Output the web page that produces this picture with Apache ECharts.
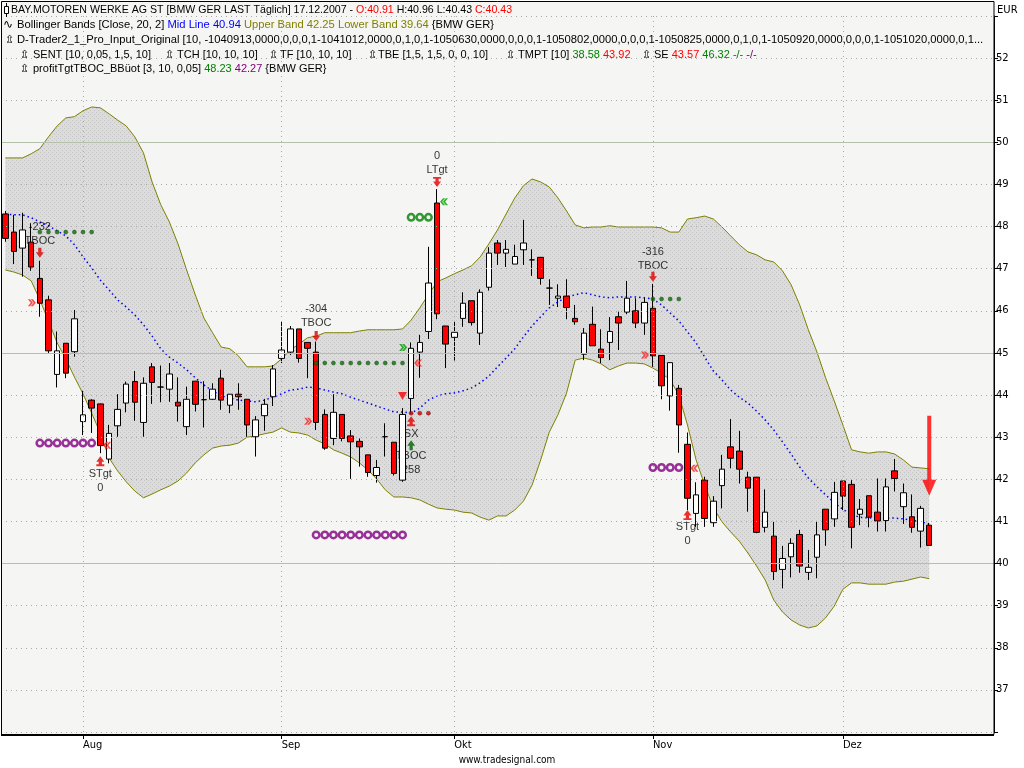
<!DOCTYPE html>
<html><head><meta charset="utf-8">
<script src="https://cdn.jsdelivr.net/npm/echarts@6/dist/echarts.min.js"></script>
<style>html,body{margin:0;padding:0;background:#fff}#c{width:1024px;height:768px}</style>
</head><body><div id="c"></div>
<script>
const dates = [
'2007-07-19','2007-07-20','2007-07-23','2007-07-24','2007-07-25','2007-07-26','2007-07-27','2007-07-30','2007-07-31',
'2007-08-01','2007-08-02','2007-08-03','2007-08-06','2007-08-07','2007-08-08','2007-08-09','2007-08-10','2007-08-13','2007-08-14','2007-08-15','2007-08-16','2007-08-17','2007-08-20','2007-08-21','2007-08-22','2007-08-23','2007-08-24','2007-08-27','2007-08-28','2007-08-29','2007-08-30','2007-08-31',
'2007-09-03','2007-09-04','2007-09-05','2007-09-06','2007-09-07','2007-09-10','2007-09-11','2007-09-12','2007-09-13','2007-09-14','2007-09-17','2007-09-18','2007-09-19','2007-09-20','2007-09-21','2007-09-24','2007-09-25','2007-09-26','2007-09-27','2007-09-28',
'2007-10-01','2007-10-02','2007-10-03','2007-10-04','2007-10-05','2007-10-08','2007-10-09','2007-10-10','2007-10-11','2007-10-12','2007-10-15','2007-10-16','2007-10-17','2007-10-18','2007-10-19','2007-10-22','2007-10-23','2007-10-24','2007-10-25','2007-10-26','2007-10-29','2007-10-30','2007-10-31',
'2007-11-01','2007-11-02','2007-11-05','2007-11-06','2007-11-07','2007-11-08','2007-11-09','2007-11-12','2007-11-13','2007-11-14','2007-11-15','2007-11-16','2007-11-19','2007-11-20','2007-11-21','2007-11-22','2007-11-23','2007-11-26','2007-11-27','2007-11-28','2007-11-29','2007-11-30',
'2007-12-03','2007-12-04','2007-12-05','2007-12-06','2007-12-07','2007-12-10','2007-12-11','2007-12-12','2007-12-13','2007-12-14','2007-12-17',
'2007-12-18','2007-12-19','2007-12-20','2007-12-21','2007-12-24','2007-12-25','2007-12-26'];
const monthNames = {'08':'Aug','09':'Sep','10':'Okt','11':'Nov','12':'Dez'};

// [open, close, low, high]
const ohlc = [
[48.30,47.72,47.64,48.37],[47.87,47.41,47.11,48.28],[47.49,47.92,46.81,48.33],[47.63,47.04,46.95,48.08],[46.77,46.18,45.86,47.19],
[46.26,45.05,45.00,46.36],[44.49,45.05,44.18,45.51],[45.23,44.52,44.40,45.23],[45.03,45.81,44.91,46.02],[43.37,43.53,43.05,44.10],
[43.88,43.69,43.10,43.90],[43.79,42.80,42.62,43.80],[42.48,43.09,42.38,43.29],[43.27,43.66,43.01,44.02],[43.81,44.26,43.59,44.32],
[44.32,43.83,43.39,44.57],[43.35,44.28,43.01,44.42],[44.67,44.30,43.79,44.76],[44.19,44.19,43.83,44.70],[44.14,44.50,43.84,44.76],
[43.83,43.74,43.37,44.42],[43.25,43.90,43.05,44.20],[44.33,43.78,43.61,44.33],[43.89,43.89,43.23,44.33],[43.90,44.14,43.89,44.28],
[44.40,43.88,43.65,44.60],[43.76,44.02,43.57,44.02],[44.02,43.96,43.65,44.28],[43.90,43.29,43.01,43.90],[43.01,43.41,42.54,43.50],
[43.51,43.78,43.15,43.91],[43.96,44.62,43.74,44.71],[44.87,45.07,44.76,45.74],[45.02,45.57,44.95,45.64],[45.57,44.87,44.77,45.57],
[45.25,45.11,44.40,45.25],[45.02,43.35,43.17,45.27],[43.54,42.74,42.70,43.66],[42.97,43.59,42.81,44.02],[43.54,42.97,42.90,43.54],
[43.03,42.89,42.01,43.17],[42.90,42.77,42.30,42.97],[42.58,42.16,42.06,42.58],[42.09,42.28,41.92,42.46],[43.01,43.01,42.54,43.33],
[42.88,42.14,42.09,42.88],[41.98,43.54,41.94,43.69],[43.92,45.11,43.57,45.25],[45.02,45.25,44.41,45.43],[45.51,46.66,45.33,47.52],
[48.56,45.93,45.80,48.89],[45.64,45.21,44.64,45.64],[45.37,45.49,44.82,45.76],[45.82,46.18,45.62,46.44],[46.24,45.72,45.65,46.24],
[45.47,46.44,45.19,46.51],[46.56,47.37,46.48,47.51],[47.61,47.37,47.09,47.68],[47.37,47.46,47.04,47.68],[47.11,47.29,47.11,47.57],
[47.45,47.61,47.09,48.16],[47.21,47.21,46.83,47.46],[47.27,46.77,46.62,47.27],[46.54,46.54,46.14,46.75],[46.30,46.35,46.09,46.63],
[46.35,46.08,45.80,46.75],[45.82,45.74,45.67,46.14],[44.97,45.47,44.83,45.59],[45.68,45.17,45.17,46.10],[45.09,44.89,44.76,45.56],
[45.25,45.51,44.83,45.85],[45.86,45.71,45.07,45.98],[45.97,46.30,45.92,46.71],[46.00,45.71,45.59,46.30],[45.71,46.20,45.43,46.31],
[46.06,44.93,44.67,46.64],[44.94,44.22,43.90,44.94],[43.98,44.77,43.63,44.77],[44.16,43.29,42.63,44.24],[42.83,41.55,41.27,43.11],
[41.19,41.63,40.87,41.93],[41.98,41.07,40.87,42.06],[40.97,41.48,40.87,41.60],[41.85,42.24,41.31,42.58],[42.77,42.50,42.26,43.43],
[42.67,42.24,41.90,43.15],[42.05,41.79,41.23,42.18],[42.05,40.74,40.72,42.05],[40.86,41.22,40.74,41.76],[40.65,39.81,39.61,40.99],
[39.86,40.12,39.41,40.42],[40.16,40.48,39.67,40.60],[40.69,39.94,39.78,40.80],[39.79,39.91,39.61,40.32],[40.15,40.68,39.65,40.99],
[41.29,40.80,40.42,41.29],[41.06,41.69,40.87,41.94],[41.96,41.60,41.27,41.96],[41.88,40.86,40.36,41.98],[41.17,41.29,40.91,41.53],
[41.61,41.10,40.86,41.61],[41.22,41.01,40.76,42.02],[41.02,41.82,40.76,42.02],[42.20,42.02,41.71,42.48],[41.35,41.68,40.94,41.90],
[41.11,40.86,40.73,41.64],[40.77,41.31,40.38,41.37],[40.91,40.43,40.43,40.96]];

const bbUpper = [
49.63,49.63,49.63,49.73,49.85,50.13,50.39,50.58,50.61,50.75,
50.84,50.82,50.68,50.53,50.39,50.13,49.75,49.06,48.52,48.11,
47.59,46.97,46.38,45.83,45.48,45.14,45.10,44.93,44.67,44.67,
44.67,44.69,44.86,45.07,45.21,45.36,45.40,45.48,45.48,45.48,
45.48,45.52,45.55,45.55,45.55,45.55,45.57,45.78,46.07,46.38,
46.69,46.78,46.88,46.97,47.07,47.28,47.59,47.92,48.30,48.68,
48.97,49.13,49.06,48.94,48.68,48.37,48.04,47.97,47.99,47.99,
48.02,47.99,47.99,47.99,47.99,47.99,47.97,47.87,47.87,48.18,
48.21,48.25,48.18,47.99,47.78,47.57,47.40,47.33,47.21,47.16,
46.95,46.62,46.14,45.55,45.02,44.41,43.86,43.29,42.70,42.65,
42.62,42.65,42.65,42.60,42.46,42.29,42.27,42.25];
const bbLower = [
46.97,46.92,46.85,46.71,46.26,45.76,45.24,44.86,44.43,44.03,
43.57,43.10,42.51,42.20,41.94,41.72,41.56,41.65,41.75,41.84,
41.96,42.15,42.39,42.58,42.74,42.79,42.81,42.86,43.00,43.03,
43.08,43.12,43.22,43.12,43.10,43.05,42.93,42.84,42.70,42.62,
42.53,42.39,42.22,42.01,41.75,41.58,41.58,41.56,41.51,41.41,
41.32,41.29,41.27,41.22,41.20,41.10,41.03,41.13,41.13,41.27,
41.48,41.86,42.46,43.12,43.53,44.05,44.83,44.88,44.83,44.74,
44.60,44.69,44.76,44.76,44.74,44.64,44.52,44.36,44.00,43.29,
42.46,41.86,41.32,40.99,40.75,40.53,40.25,39.94,39.61,39.13,
38.85,38.66,38.54,38.47,38.52,38.71,38.99,39.39,39.54,39.54,
39.51,39.51,39.51,39.56,39.58,39.63,39.68,39.64];
const bbMid = [
48.30,48.28,48.28,48.21,48.11,48.02,47.90,47.78,47.57,47.28,
47.02,46.73,46.50,46.26,46.09,45.90,45.67,45.40,45.10,44.90,
44.76,44.60,44.41,44.24,44.10,43.98,43.93,43.88,43.86,43.84,
43.88,43.95,44.03,44.12,44.14,44.19,44.17,44.12,44.07,44.03,
43.95,43.88,43.81,43.74,43.67,43.60,43.60,43.57,43.69,43.88,
43.98,44.03,44.05,44.10,44.17,44.29,44.45,44.67,44.88,45.10,
45.38,45.64,45.86,46.07,46.21,46.33,46.38,46.43,46.38,46.33,
46.31,46.33,46.33,46.33,46.31,46.28,46.14,45.95,45.76,45.50,
45.24,44.90,44.57,44.36,44.12,43.95,43.81,43.62,43.41,43.17,
42.89,42.60,42.29,42.03,41.82,41.63,41.44,41.29,41.15,41.10,
41.08,41.08,41.08,41.08,41.06,41.03,40.99,40.94];

const yMin = 36, yMax = 53, yStep = 1;
const gridLevels = [36,37,38,39,40,41,42,43,44,45,46,47,48,49,50,51,52,53];
const majorLevels = [40,45,50];

// signal markers [candle index, price]
const greenDots = [[4,47.87],[5,47.87],[6,47.87],[7,47.87],[8,47.87],[9,47.87],[10,47.87],
  [36,44.76],[37,44.76],[38,44.76],[39,44.76],[40,44.76],[41,44.76],[42,44.76],[43,44.76],[44,44.76],[45,44.76],[46,44.76],
  [75,46.28],[76,46.28],[77,46.28],[78,46.28]];
const redDots = [[47,43.57],[48,43.57],[49,43.57]];
const purpleRings = [[4,42.86],[5,42.86],[6,42.86],[7,42.86],[8,42.86],[9,42.86],[10,42.86],
  [36,40.68],[37,40.68],[38,40.68],[39,40.68],[40,40.68],[41,40.68],[42,40.68],[43,40.68],[44,40.68],[45,40.68],[46,40.68],
  [75,42.28],[76,42.28],[77,42.28],[78,42.28]];
const greenRings = [[47,48.22],[48,48.22],[49,48.22]];
const sellArrows = [[4,47.38],[36,45.40],[75,46.81]];
const longTgtArrows = [[50,49.06]];
const shortTgtArrows = [[11,42.43],[79,41.15],[47,43.38]];
const buyArrows = [[47,42.81]];
const downTriangles = [[46,43.98]];
const redChevronsRight = [[4,46.19],[36,43.38],[75,44.95]];
const greenChevronsRight = [[47,45.13]];
const redChevronsLeft = [[11,42.81],[47,44.76],[79,42.26]];
const greenChevronsLeft = [[50,48.59]];
const bigArrow = [[107,42.56]];
const textMarks = [[4,47.83,'-232\nTBOC'],[36,45.88,'-304\nTBOC'],[75,47.24,'-316\nTBOC'],[50,49.50,'0\nLTgt'],
  [11,41.95,'STgt\n0'],[79,40.69,'STgt\n0'],[47,43.08,'SX'],[47,42.38,'TBOC\n258']];

function isMonthStart(i){ return i>0 && dates[i].slice(5,7)!==dates[i-1].slice(5,7); }
const monthStarts = dates.map((d,i)=>i).filter(isMonthStart);

function makePattern(){
  const c=document.createElement('canvas'); c.width=4; c.height=4;
  const g=c.getContext('2d'); g.fillStyle='#dcdcdc'; g.fillRect(0,0,4,4);
  g.fillStyle='#c4c4c4'; g.fillRect(0,0,1,1); g.fillRect(2,2,1,1); return c;
}

const FONT = '"Liberation Sans", Arial, sans-serif';
const chart = echarts.init(document.getElementById('c'));

const gridMarks = gridLevels.map(v => majorLevels.includes(v)
  ? {yAxis:v, lineStyle:{type:'solid', color:'#b4c0ac', width:1}}
  : {yAxis:v, lineStyle:{type:[1,4], color:'#a8a8a8', width:1}})
  .concat(monthStarts.map(i => ({xAxis:i, lineStyle:{type:[1,4], color:'#a8a8a8', width:1}})));

function scat(name, data, opts){ return Object.assign({type:'scatter', name, data, z:5, silent:true, animation:false}, opts); }

const arrowDown = 'path://M3,0 L7,0 L7,5 L10,5 L5,11 L0,5 L3,5 Z';
const arrowDownBar = 'path://M0,0 L10,0 L10,2 L7,2 L7,5 L10,5 L5,11 L0,5 L3,5 L3,2 L0,2 Z';
const arrowUpBar = 'path://M5,0 L10,6 L7,6 L7,9 L10,9 L10,11 L0,11 L0,9 L3,9 L3,6 L0,6 Z';
const arrowUp = 'path://M5,0 L10,6 L7,6 L7,11 L3,11 L3,6 L0,6 Z';
const chevR = 'path://M0,0 L3,0 L7,4 L3,8 L0,8 L4,4 Z M4,0 L7,0 L11,4 L7,8 L4,8 L8,4 Z';
const chevL = 'path://M11,0 L8,0 L4,4 L8,8 L11,8 L7,4 Z M7,0 L4,0 L0,4 L4,8 L7,8 L3,4 Z';
const bigArrowPath = 'path://M5,0 L9,0 L9,64 L14,64 L7,80 L0,64 L5,64 Z';

const option = {
  animation:false,
  grid:{left:1, right:30, top:16, height:716, containLabel:false},
  xAxis:{type:'category', data:dates, boundaryGap:true, offset:3,
    axisLine:{show:false},
    axisTick:{show:true, alignWithLabel:true, interval:(i)=>isMonthStart(i), length:4, lineStyle:{color:'#000'}},
    axisLabel:{interval:(i)=>isMonthStart(i), formatter:(v)=>monthNames[v.slice(5,7)]||'', align:'left', margin:5,
      fontSize:11, color:'#000', fontFamily:'"Liberation Sans Narrow","DejaVu Sans Condensed",sans-serif'},
    splitLine:{show:false}},
  yAxis:{type:'value', position:'right', min:yMin, max:yMax, interval:yStep, scale:true,
    axisLine:{show:true, lineStyle:{color:'#000'}},
    axisTick:{show:true, length:4, lineStyle:{color:'#000'}},
    axisLabel:{margin:2, fontSize:10, color:'#000', fontFamily:'"DejaVu Sans",sans-serif',
      formatter:(v)=> (v===yMin||v===yMax)?'':String(v)},
    splitLine:{show:false}},
  series:[
    {type:'line', name:'Lower Band', data:bbLower, stack:'bb', symbol:'none', z:1,
      lineStyle:{color:'#808000', width:1}},
    {type:'line', name:'Band', data:bbUpper.map((u,i)=>+(u-bbLower[i]).toFixed(2)), stack:'bb', symbol:'none', z:1,
      lineStyle:{color:'#808000', width:1}, areaStyle:{color:{image:makePattern(), repeat:'repeat'}, opacity:1}},
    {type:'line', name:'Mid Line', data:bbMid, symbol:'none', z:2,
      lineStyle:{color:'#0000ff', width:1.5, type:[1.5,3]},
      markLine:{silent:true, symbol:['none','none'], label:{show:false}, animation:false, data:gridMarks}},
    scat('texts', textMarks, {z:2.5, symbolSize:1, itemStyle:{color:'rgba(0,0,0,0)'},
      label:{show:true, position:'inside', formatter:(p)=>p.data[2], color:'#000', fontSize:11, lineHeight:14, fontFamily:FONT}}),
    {type:'candlestick', name:'BMW', data:ohlc, barWidth:6, z:3,
      itemStyle:{color:'#ffffff', color0:'#ff0000', borderColor:'#000', borderColor0:'#000', borderColorDoji:'#000', borderWidth:1}},
    scat('greenDots', greenDots, {symbol:'circle', symbolSize:4, itemStyle:{color:'#0a6e0a', borderColor:'#004000', borderWidth:0.5}}),
    scat('redDots', redDots, {symbol:'circle', symbolSize:4, itemStyle:{color:'#d00000', borderColor:'#600000', borderWidth:0.5}}),
    scat('purpleRings', purpleRings, {symbol:'circle', symbolSize:6.5, itemStyle:{color:'rgba(0,0,0,0)', borderColor:'#800080', borderWidth:2.5}}),
    scat('greenRings', greenRings, {symbol:'circle', symbolSize:6.5, itemStyle:{color:'rgba(0,0,0,0)', borderColor:'#008000', borderWidth:2.5}}),
    scat('sell', sellArrows, {symbol:arrowDown, symbolSize:[8,10], itemStyle:{color:'#e00000'}}),
    scat('ltgt', longTgtArrows, {symbol:arrowDownBar, symbolSize:[8,10], itemStyle:{color:'#e00000'}}),
    scat('stgt', shortTgtArrows, {symbol:arrowUpBar, symbolSize:[8,10], itemStyle:{color:'#e00000'}}),
    scat('buy', buyArrows, {symbol:arrowUp, symbolSize:[8,10], itemStyle:{color:'#006400'}}),
    scat('tri', downTriangles, {symbol:'triangle', symbolRotate:180, symbolSize:[9,8], itemStyle:{color:'#ff0000'}}),
    scat('chevRr', redChevronsRight, {symbol:chevR, symbolSize:[8,7], symbolOffset:[-8,0], itemStyle:{color:'#ff2020'}}),
    scat('chevRg', greenChevronsRight, {symbol:chevR, symbolSize:[8,7], symbolOffset:[-8,0], itemStyle:{color:'#00a000'}}),
    scat('chevLr', redChevronsLeft, {symbol:chevL, symbolSize:[8,7], symbolOffset:[7,0], itemStyle:{color:'#ff2020'}}),
    scat('chevLg', greenChevronsLeft, {symbol:chevL, symbolSize:[8,7], symbolOffset:[7,0], itemStyle:{color:'#00a000'}}),
    scat('bigArrow', bigArrow, {symbol:bigArrowPath, symbolSize:[14,80], itemStyle:{color:'#ff0000'}, z:6})
  ],
  graphic:[
    {type:'rect', z:-10, silent:true, shape:{x:1,y:1,width:993,height:734}, style:{fill:'#f5f5f3'}},
    {type:'rect', z:50, silent:true, shape:{x:1.5,y:1.5,width:992.5,height:733}, style:{fill:'none', stroke:'#000', lineWidth:1}},
    {type:'line', z:50, silent:true, shape:{x1:1,y1:735,x2:994,y2:735}, style:{stroke:'#000', lineWidth:2}},
    // header icons
    {type:'line', z:60, silent:true, shape:{x1:6.5,y1:3,x2:6.5,y2:17}, style:{stroke:'#000', lineWidth:1}},
    {type:'rect', z:61, silent:true, shape:{x:4.5,y:6.5,width:4,height:7}, style:{fill:'#fff', stroke:'#000', lineWidth:1}},
    {type:'text', z:60, silent:true, x:3, y:25, style:{text:'∿', font:'12px "DejaVu Sans"', fill:'#000', verticalAlign:'middle'}},
    {type:'text', z:60, silent:true, x:5, y:40, style:{text:'⇫', font:'11px "DejaVu Sans"', fill:'#000', verticalAlign:'middle'}},
    ...[20,165,269,368,506,642].map(x=>({type:'text', z:60, silent:true, x:x, y:55, style:{text:'⇫', font:'11px "DejaVu Sans"', fill:'#000', verticalAlign:'middle'}})),
    {type:'text', z:60, silent:true, x:20, y:69, style:{text:'⇫', font:'11px "DejaVu Sans"', fill:'#000', verticalAlign:'middle'}},
    // header texts
    {type:'text', z:60, silent:true, x:11, y:10, style:{font:'10.6px '+FONT, fill:'#000', verticalAlign:'middle',
      text:'{k|BAY.MOTOREN WERKE AG ST [BMW GER LAST Täglich] 17.12.2007 - }{r|O:40.91}{k| H:40.96 L:40.43 }{r|C:40.43}',
      rich:{k:{fill:'#000'}, r:{fill:'#ff0000'}}}},
    {type:'text', z:60, silent:true, x:17, y:25, style:{font:'11.2px '+FONT, fill:'#000', verticalAlign:'middle',
      text:'{k|Bollinger Bands [Close, 20, 2] }{b|Mid Line 40.94}{o| Upper Band 42.25 Lower Band 39.64} {BMW GER}',
      rich:{k:{fill:'#000'}, b:{fill:'#0000ff'}, o:{fill:'#808000'}}}},
    {type:'text', z:60, silent:true, x:17, y:40, style:{font:'11.2px '+FONT, fill:'#000', verticalAlign:'middle',
      text:'D-Trader2_1_Pro_Input_Original [10, -1040913,0000,0,0,0,1-1041012,0000,0,1,0,1-1050630,0000,0,0,0,1-1050802,0000,0,0,0,1-1050825,0000,0,1,0,1-1050920,0000,0,0,0,1-1051020,0000,0,1...'}},
    {type:'text', z:60, silent:true, x:33, y:55, style:{font:'11px '+FONT, fill:'#000', verticalAlign:'middle', text:'SENT [10, 0,05, 1,5, 10]'}},
    {type:'text', z:60, silent:true, x:177, y:55, style:{font:'11px '+FONT, fill:'#000', verticalAlign:'middle', text:'TCH [10, 10, 10]'}},
    {type:'text', z:60, silent:true, x:280, y:55, style:{font:'11px '+FONT, fill:'#000', verticalAlign:'middle', text:'TF [10, 10, 10]'}},
    {type:'text', z:60, silent:true, x:378, y:55, style:{font:'11px '+FONT, fill:'#000', verticalAlign:'middle', text:'TBE [1,5, 1,5, 0, 0, 10]'}},
    {type:'text', z:60, silent:true, x:518, y:55, style:{font:'11px '+FONT, fill:'#000', verticalAlign:'middle',
      text:'{k|TMPT [10] }{g|38.58}{k| }{r|43.92}', rich:{k:{fill:'#000'}, g:{fill:'#008000'}, r:{fill:'#ff0000'}}}},
    {type:'text', z:60, silent:true, x:654, y:55, style:{font:'11px '+FONT, fill:'#000', verticalAlign:'middle',
      text:'{k|SE }{r|43.57}{k| }{g|46.32}{k| }{g|-/-}{k| }{p|-/-}', rich:{k:{fill:'#000'}, g:{fill:'#008000'}, r:{fill:'#ff0000'}, p:{fill:'#800080'}}}},
    {type:'text', z:60, silent:true, x:33, y:69, style:{font:'11px '+FONT, fill:'#000', verticalAlign:'middle',
      text:'{k|profitTgtTBOC_BBüot [3, 10, 0,05] }{g|48.23}{k| }{p|42.27} {BMW GER}', rich:{k:{fill:'#000'}, g:{fill:'#008000'}, p:{fill:'#800080'}}}},
    {type:'text', z:60, silent:true, x:997, y:10, style:{text:'EUR', font:'10px "DejaVu Sans"', fill:'#000', verticalAlign:'middle'}},
    {type:'text', z:60, silent:true, x:507, y:760, style:{text:'www.tradesignal.com', font:'10px "Liberation Sans Narrow","DejaVu Sans Condensed",sans-serif', fill:'#000', align:'center', verticalAlign:'middle'}}
  ]
};
chart.setOption(option);
</script></body></html>
